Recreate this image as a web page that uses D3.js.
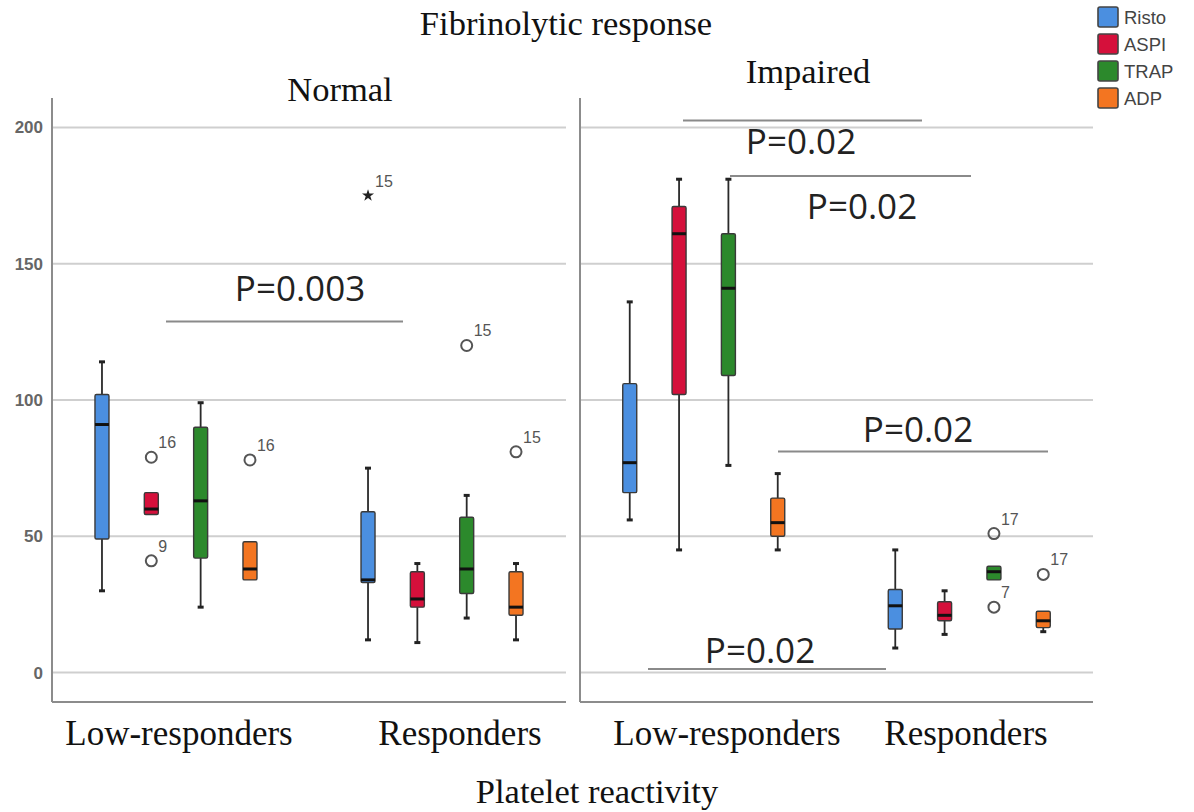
<!DOCTYPE html>
<html><head><meta charset="utf-8">
<script src="https://cdn.jsdelivr.net/npm/d3@7"></script>
<style>body{margin:0;background:#fff}</style>
</head><body><svg id="c" width="1194" height="812"></svg>
<script>
// ---------------- data ----------------
const panels = ["Normal", "Impaired"];
const groups = ["Low-responders", "Responders"];
const series = ["Risto", "ASPI", "TRAP", "ADP"];
const colors = ["#4b8fe0", "#d5103b", "#2c892c", "#f37521"];
const yTicks = [0, 50, 100, 150, 200];

// box statistics, ordered panel -> group -> series
const whiskerLow  = [30, 58, 24, 34,   12, 11, 20, 12,   56, 45, 76, 45,   9, 14, 34, 15];
const q1          = [49, 58, 42, 34,   33, 24, 29, 21,   66, 102, 109, 50, 16, 19, 34, 16.5];
const median      = [91, 60, 63, 38,   34, 27, 38, 24,   77, 161, 141, 55, 24.5, 21, 37, 19];
const q3          = [102, 66, 90, 48,  59, 37, 57, 37,   106, 171, 161, 64, 30.5, 26, 39, 22.5];
const whiskerHigh = [114, 66, 99, 48,  75, 40, 65, 40,   136, 181, 181, 73, 45, 30, 39, 22.5];

// outliers
const outPanel  = ["Normal", "Normal", "Normal", "Normal", "Normal", "Normal", "Impaired", "Impaired", "Impaired"];
const outGroup  = ["Low-responders", "Low-responders", "Low-responders", "Responders", "Responders", "Responders", "Responders", "Responders", "Responders"];
const outSeries = ["ASPI", "ASPI", "ADP", "Risto", "TRAP", "ADP", "TRAP", "TRAP", "ADP"];
const outValue  = [79, 41, 78, 175, 120, 81, 51, 24, 36];
const outLabel  = ["16", "9", "16", "15", "15", "15", "17", "7", "17"];
const outShape  = ["circle", "circle", "circle", "star", "circle", "circle", "circle", "circle", "circle"];

// significance annotations
const pLabels = ["P=0.003", "P=0.02", "P=0.02", "P=0.02", "P=0.02"];

// ---------------- layout ----------------
const svg = d3.select("#c");
const panelX = {Normal: [52, 566], Impaired: [580, 1093]};
const plotTop = 98, plotBottom = 702;
const y = d3.scaleLinear().domain([-10.8, 210.8]).range([plotBottom, plotTop]);
const xGroup = {};
panels.forEach(p => {
  xGroup[p] = d3.scalePoint().domain(groups).range(panelX[p]).padding(0.466);
});
const xSeries = d3.scalePoint().domain(series).range([-74, 74]);
const color = d3.scaleOrdinal().domain(series).range(colors);
const boxW = 14;

// panels: gridlines + axes
panels.forEach((p, pi) => {
  const [x0, x1] = panelX[p];
  const g = svg.append("g");
  g.selectAll("line.grid").data(yTicks).join("line")
    .attr("x1", x0).attr("x2", x1)
    .attr("y1", d => y(d)).attr("y2", d => y(d))
    .attr("stroke", "#cfcfcf").attr("stroke-width", 2);
  g.append("line").attr("x1", x0).attr("x2", x0).attr("y1", plotTop).attr("y2", plotBottom)
    .attr("stroke", "#8c8c8c").attr("stroke-width", 2);
  g.append("line").attr("x1", x0).attr("x2", x1).attr("y1", plotBottom).attr("y2", plotBottom)
    .attr("stroke", "#8c8c8c").attr("stroke-width", 2);
  if (pi === 0) {
    const ax = d3.axisLeft(y).tickValues(yTicks).tickSize(0).tickPadding(9);
    const a = svg.append("g").attr("transform", `translate(${x0},0)`).call(ax);
    a.select(".domain").remove();
    a.selectAll("text").attr("font-family", "Liberation Sans, Arial, sans-serif")
      .attr("font-size", 17).attr("font-weight", "bold").attr("fill", "#666");
  }
});

// boxes
const rows = [];
panels.forEach((p, pi) => groups.forEach((gname, gi) => series.forEach((s, si) => {
  const i = pi * 8 + gi * 4 + si;
  rows.push({p, g: gname, s, lo: whiskerLow[i], q1: q1[i], med: median[i], q3: q3[i], hi: whiskerHigh[i]});
})));
const cx = d => xGroup[d.p](d.g) + xSeries(d.s);

const bg = svg.append("g");
bg.selectAll("line.wu").data(rows.filter(d => d.hi > d.q3)).join("line")
  .attr("x1", cx).attr("x2", cx).attr("y1", d => y(d.q3)).attr("y2", d => y(d.hi))
  .attr("stroke", "#2a2a2a").attr("stroke-width", 1.8);
bg.selectAll("line.wl").data(rows.filter(d => d.lo < d.q1)).join("line")
  .attr("x1", cx).attr("x2", cx).attr("y1", d => y(d.q1)).attr("y2", d => y(d.lo))
  .attr("stroke", "#2a2a2a").attr("stroke-width", 1.8);
bg.selectAll("line.cu").data(rows.filter(d => d.hi > d.q3)).join("line")
  .attr("x1", d => cx(d) - 3).attr("x2", d => cx(d) + 3).attr("y1", d => y(d.hi)).attr("y2", d => y(d.hi))
  .attr("stroke", "#222").attr("stroke-width", 3);
bg.selectAll("line.cl").data(rows.filter(d => d.lo < d.q1)).join("line")
  .attr("x1", d => cx(d) - 3).attr("x2", d => cx(d) + 3).attr("y1", d => y(d.lo)).attr("y2", d => y(d.lo))
  .attr("stroke", "#222").attr("stroke-width", 3);
bg.selectAll("rect.box").data(rows).join("rect")
  .attr("x", d => cx(d) - boxW / 2).attr("width", boxW)
  .attr("y", d => y(d.q3)).attr("height", d => y(d.q1) - y(d.q3))
  .attr("rx", 1.5)
  .attr("fill", d => color(d.s)).attr("stroke", "#3a3a3a").attr("stroke-width", 1.4);
bg.selectAll("line.med").data(rows).join("line")
  .attr("x1", d => cx(d) - boxW / 2).attr("x2", d => cx(d) + boxW / 2)
  .attr("y1", d => y(d.med)).attr("y2", d => y(d.med))
  .attr("stroke", "#111").attr("stroke-width", 3);

// outliers
const outs = outValue.map((v, i) => ({p: outPanel[i], g: outGroup[i], s: outSeries[i], v, label: outLabel[i], shape: outShape[i]}));
const og = svg.append("g");
og.selectAll("circle").data(outs.filter(d => d.shape === "circle")).join("circle")
  .attr("cx", cx).attr("cy", d => y(d.v)).attr("r", 5.5)
  .attr("fill", "none").attr("stroke", "#555").attr("stroke-width", 2);
og.selectAll("path.star").data(outs.filter(d => d.shape === "star")).join("path")
  .attr("transform", d => `translate(${cx(d)},${y(d.v)})`)
  .attr("d", d3.symbol(d3.symbolStar, 45))
  .attr("fill", "#222");
og.selectAll("text").data(outs).join("text")
  .attr("x", d => cx(d) + 7).attr("y", d => y(d.v) - 9)
  .attr("font-family", "Liberation Sans, Arial, sans-serif").attr("font-size", 16)
  .attr("fill", "#555").text(d => d.label);

// significance annotations
const pLayout = [
  {tx: 300, ty: 301, x1: 166, x2: 403, ly: 321.5},
  {tx: 801, ty: 154, x1: 683, x2: 922, ly: 120.5},
  {tx: 862, ty: 219, x1: 730, x2: 971, ly: 176},
  {tx: 918, ty: 442, x1: 778, x2: 1048, ly: 451.5},
  {tx: 760, ty: 663, x1: 648, x2: 886, ly: 669}
];
const ag = svg.append("g");
pLabels.forEach((t, i) => {
  const L = pLayout[i];
  ag.append("line").attr("x1", L.x1).attr("x2", L.x2).attr("y1", L.ly).attr("y2", L.ly)
    .attr("stroke", "#8a8a8a").attr("stroke-width", 2);
  ag.append("text").attr("x", L.tx).attr("y", L.ty).attr("text-anchor", "middle")
    .attr("font-family", "Open Sans, sans-serif").attr("font-size", 35).attr("fill", "#222")
    .text(t);
});

// titles
const serif = "Liberation Serif, Times New Roman, serif";
svg.append("text").attr("x", 566).attr("y", 35).attr("text-anchor", "middle")
  .attr("font-family", serif).attr("font-size", 34.5).attr("fill", "#111").text("Fibrinolytic response");
svg.append("text").attr("x", 340).attr("y", 101).attr("text-anchor", "middle")
  .attr("font-family", serif).attr("font-size", 34.5).attr("fill", "#111").text(panels[0]);
svg.append("text").attr("x", 808).attr("y", 83).attr("text-anchor", "middle")
  .attr("font-family", serif).attr("font-size", 34.5).attr("fill", "#111").text(panels[1]);
const groupLabelX = {Normal: [179, 460], Impaired: [727, 966]};
panels.forEach(p => groups.forEach((gname, gi) => {
  svg.append("text").attr("x", groupLabelX[p][gi]).attr("y", 745).attr("text-anchor", "middle")
    .attr("font-family", serif).attr("font-size", 35).attr("fill", "#111").text(gname);
}));
svg.append("text").attr("x", 597).attr("y", 803).attr("text-anchor", "middle")
  .attr("font-family", serif).attr("font-size", 34.5).attr("fill", "#111").text("Platelet reactivity");

// legend
const lg = svg.append("g");
series.forEach((s, i) => {
  const cy = 17 + i * 27;
  lg.append("rect").attr("x", 1098).attr("y", cy - 10).attr("width", 20).attr("height", 20)
    .attr("rx", 2).attr("fill", color(s)).attr("stroke", "#444").attr("stroke-width", 1.6);
  lg.append("text").attr("x", 1124).attr("y", cy + 7)
    .attr("font-family", "Liberation Sans, Arial, sans-serif").attr("font-size", 18.5).attr("fill", "#444").text(s);
});
</script></body></html>
